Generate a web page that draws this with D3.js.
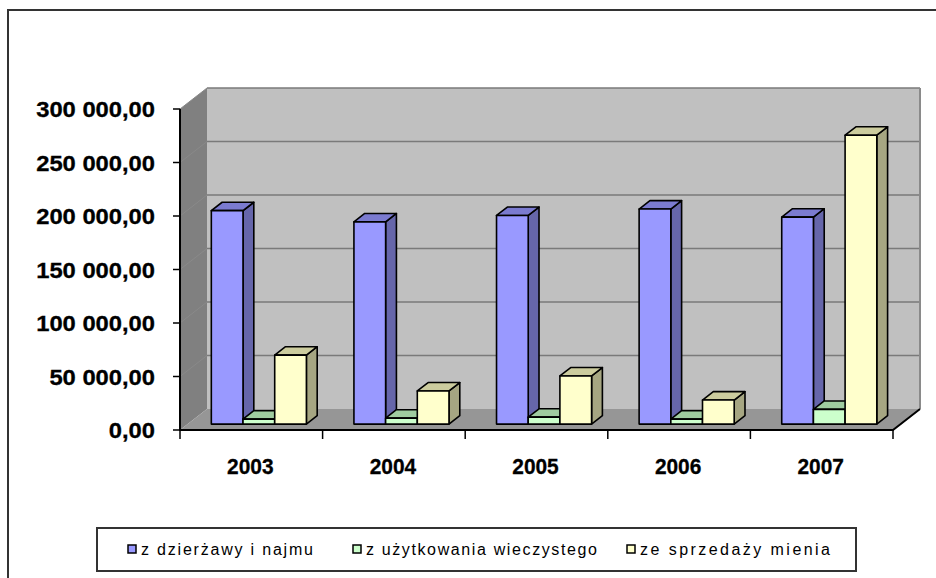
<!DOCTYPE html>
<html>
<head>
<meta charset="utf-8">
<script src="https://cdn.jsdelivr.net/npm/d3@7"></script>
<style>
  html, body { margin: 0; padding: 0; background: #fff; }
  svg { display: block; }
  text { font-family: "Liberation Sans", Arial, sans-serif; }
</style>
</head>
<body>
<script>
// Revenue by source, 2003–2007
const years = ["2003", "2004", "2005", "2006", "2007"];
const seriesNames = ["z dzierżawy i najmu", "z użytkowania wieczystego", "ze sprzedaży mienia"];
const leaseValues = [199500, 189000, 195000, 201000, 193500];
const perpetualUsufructValues = [4700, 5600, 6500, 4700, 13800];
const propertySaleValues = [64500, 31000, 45000, 22500, 270000];
const yTicks = [0, 50000, 100000, 150000, 200000, 250000, 300000];

const seriesValues = [leaseValues, perpetualUsufructValues, propertySaleValues];
const palette = [
  { front: "#9999FF", top: "#7B7BD0", side: "#6666AA" },
  { front: "#CCFFCC", top: "#A0CCA0", side: "#88AA88" },
  { front: "#FFFFCC", top: "#CCCC9E", side: "#A6A682" }
];

const W = 936, H = 578;
const svg = d3.select("body").append("svg").attr("width", W).attr("height", H);

// Outer chart frame (only top and left edges fall inside the view)
svg.append("path")
  .attr("d", `M8,${H + 2} L8,10 L${W + 2},10`)
  .attr("fill", "none").attr("stroke", "#333").attr("stroke-width", 2);

// Scales: front plane of the 3D box plus a depth offset
const x = d3.scaleBand().domain(years).range([180, 893]).paddingInner(0).paddingOuter(0);
const xs = d3.scaleBand().domain(d3.range(3)).range([0, x.bandwidth()]).paddingInner(0).paddingOuter(0.75);
const y = d3.scaleLinear().domain([0, 300000]).range([430, 109]);
const depthX = d3.scaleLinear().domain([0, 1]).range([0, 27]);
const depthY = d3.scaleLinear().domain([0, 1]).range([0, -21]);
const P = (px, v, z) => [px + depthX(z), y(v) + depthY(z)];
const poly = pts => "M" + pts.map(p => p.join(",")).join("L") + "Z";

const [x0, x1] = x.range();
const vMax = y.domain()[1];

// Walls and floor
svg.append("path").attr("d", poly([P(x0, 0, 1), P(x1, 0, 1), P(x1, vMax, 1), P(x0, vMax, 1)]))
  .attr("fill", "#C0C0C0");
svg.append("path").attr("d", poly([P(x0, 0, 0), P(x0, 0, 1), P(x0, vMax, 1), P(x0, vMax, 0)]))
  .attr("fill", "#808080");
svg.append("path").attr("d", poly([P(x0, 0, 0), P(x1, 0, 0), P(x1, 0, 1), P(x0, 0, 1)]))
  .attr("fill", "#969696");

// Gridlines on the back wall and the side wall
const grid = yTicks.filter(v => v > 0);
svg.append("g").selectAll("path").data(grid).join("path")
  .attr("d", v => "M" + P(x0, v, 1).join(",") + "L" + P(x1, v, 1).join(","))
  .attr("stroke", "#7A7A7A").attr("stroke-width", 1.6).attr("fill", "none");
svg.append("g").selectAll("path").data(grid).join("path")
  .attr("d", v => "M" + P(x0, v, 0).join(",") + "L" + P(x0, v, 1).join(","))
  .attr("stroke", "#898989").attr("stroke-width", 1).attr("fill", "none");
// Back wall right edge
svg.append("path").attr("d", "M" + P(x1, 0, 1).join(",") + "L" + P(x1, vMax, 1).join(","))
  .attr("stroke", "#8A8A8A").attr("stroke-width", 2).attr("fill", "none");

// Bars: drawn left to right so each front face covers its neighbour's side face
const zFront = 0.28, zBack = 0.68;
const bars = [];
years.forEach((yr, i) => {
  seriesValues.forEach((vals, s) => bars.push({ yr, s, v: vals[i] }));
});
const barG = svg.append("g").selectAll("g").data(bars).join("g")
  .attr("stroke", "#000").attr("stroke-width", 1.6).attr("stroke-linejoin", "round");
barG.each(function (d) {
  const g = d3.select(this);
  const bx0 = x(d.yr) + xs(d.s), bx1 = bx0 + xs.bandwidth();
  const c = palette[d.s];
  g.append("path").attr("fill", c.side)
    .attr("d", poly([P(bx1, 0, zFront), P(bx1, 0, zBack), P(bx1, d.v, zBack), P(bx1, d.v, zFront)]));
  g.append("path").attr("fill", c.top)
    .attr("d", poly([P(bx0, d.v, zFront), P(bx1, d.v, zFront), P(bx1, d.v, zBack), P(bx0, d.v, zBack)]));
  g.append("path").attr("fill", c.front)
    .attr("d", poly([P(bx0, 0, zFront), P(bx1, 0, zFront), P(bx1, d.v, zFront), P(bx0, d.v, zFront)]));
});

// Axes
const axisG = svg.append("g").attr("stroke", "#000").attr("fill", "none");
axisG.append("path").attr("stroke-width", 2)
  .attr("d", `M${x0},${y(vMax)}L${x0},${y(0)}L${x1},${y(0)}L${P(x1, 0, 1).join(",")}`);
axisG.selectAll(".yt").data(yTicks).join("path").attr("class", "yt").attr("stroke-width", 1.5)
  .attr("d", v => `M${x0 - 7},${y(v)}L${x0},${y(v)}`);
const xBounds = years.map(yr => x(yr)).concat([x1]);
axisG.selectAll(".xt").data(xBounds).join("path").attr("class", "xt").attr("stroke-width", 1.5)
  .attr("d", px => `M${px},${y(0)}L${px},${y(0) + 9}`);

// Tick labels (Polish number format: space thousands, comma decimals)
const plFormat = d3.formatLocale({ decimal: ",", thousands: " ", grouping: [3], currency: ["", " zł"] }).format(",.2f");
svg.append("g").selectAll("text").data(yTicks).join("text")
  .attr("transform", v => `translate(155,${y(v) + 8}) scale(1.08,1)`)
  .attr("text-anchor", "end").attr("font-size", 22).attr("font-weight", "bold").attr("fill", "#000")
  .attr("stroke", "#000").attr("stroke-width", 0.3)
  .text(v => plFormat(v));
svg.append("g").selectAll("text").data(years).join("text")
  .attr("transform", yr => `translate(${x(yr) + x.bandwidth() / 2 - 1},474) scale(0.95,1)`)
  .attr("text-anchor", "middle").attr("font-size", 22).attr("font-weight", "bold").attr("fill", "#000")
  .attr("stroke", "#000").attr("stroke-width", 0.3)
  .text(yr => yr);

// Legend
const legend = svg.append("g");
legend.append("rect").attr("x", 97).attr("y", 528).attr("width", 759).attr("height", 43)
  .attr("fill", "#fff").attr("stroke", "#333").attr("stroke-width", 2);
const legendX = [128, 353, 627];
const legendW = [172, 231, 190];
const items = legend.selectAll("g.item").data(seriesNames).join("g").attr("class", "item")
  .attr("transform", (d, i) => `translate(${legendX[i]},0)`);
items.append("rect").attr("x", 0).attr("y", 545).attr("width", 8).attr("height", 8)
  .attr("fill", (d, i) => palette[i].front).attr("stroke", "#000").attr("stroke-width", 1.5);
items.append("text").attr("x", 13).attr("y", 555).attr("font-size", 16).attr("fill", "#000")
  .attr("textLength", (d, i) => legendW[i]).attr("lengthAdjust", "spacing")
  .text(d => d);
</script>
</body>
</html>
